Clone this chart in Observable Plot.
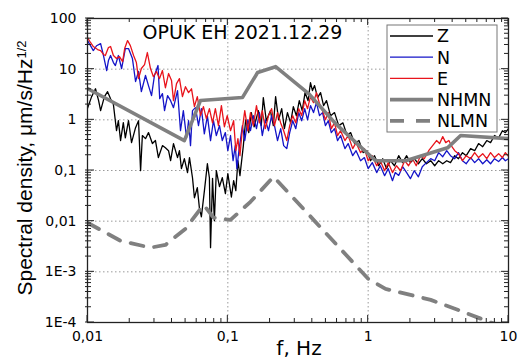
<!DOCTYPE html>
<html><head><meta charset="utf-8">
<script src="https://cdn.jsdelivr.net/npm/d3@7"></script>
<script src="https://cdn.jsdelivr.net/npm/@observablehq/plot@0.6"></script>
<style>html,body{margin:0;padding:0;background:#fff;} #chart{position:relative;width:519px;height:360px;overflow:hidden}</style>
</head><body><div id="chart"></div>
<script>
const titleText = "OPUK EH 2021.12.29";
const xLabelText = "f, Hz";
const yLabelMain = "Spectral density, μm/s/Hz";
const yLabelSup = "1/2";
const xTicks = [0.01, 0.1, 1, 10];
const xTickLabels = ["0,01", "0,1", "1", "10"];
const yTicks = [100, 10, 1, 0.1, 0.01, 0.001, 0.0001];
const yTickLabels = ["100", "10", "1", "0,1", "0,01", "1E-3", "1E-4"];
const seriesNames = ["Z", "N", "E", "NHMN", "NLMN"];
const seriesColors = ["#000000", "#1414c8", "#e8141c", "#808080", "#808080"];

// [frequency Hz, spectral density]
const zSeries = [[0.01,1.7],[0.0107,2.87],[0.0114,4.1],[0.012,2.39],[0.0124,1.52],[0.0132,2.87],[0.0139,3.6],[0.0146,2.6],[0.0153,2.0],[0.0161,0.61],[0.0166,0.96],[0.0172,0.39],[0.018,0.88],[0.0186,0.44],[0.0196,0.96],[0.0206,0.355],[0.022,0.7],[0.0231,0.96],[0.0239,0.099],[0.0246,0.49],[0.0259,0.425],[0.0272,0.56],[0.029,0.34],[0.0305,0.39],[0.032,0.18],[0.0342,0.31],[0.0359,0.28],[0.0378,0.246],[0.0391,0.156],[0.041,0.34],[0.0438,0.18],[0.0452,0.246],[0.0467,0.109],[0.049,0.171],[0.0516,0.091],[0.0533,0.18],[0.056,0.072],[0.0578,0.029],[0.0606,0.046],[0.0627,0.0184],[0.0648,0.0122],[0.0681,0.04],[0.0715,0.136],[0.0739,0.072],[0.0753,0.003],[0.0778,0.07],[0.0802,0.0102],[0.0828,0.099],[0.0872,0.048],[0.0913,0.072],[0.0961,0.035],[0.1,0.0865],[0.106,0.03],[0.11,0.063],[0.114,0.04],[0.118,0.156],[0.122,0.079],[0.129,0.31],[0.134,1.0],[0.141,0.56],[0.147,1.39],[0.154,0.73],[0.165,1.52],[0.173,0.77],[0.179,2.75],[0.188,0.96],[0.201,1.52],[0.211,0.77],[0.219,2.87],[0.23,1.0],[0.242,1.66],[0.253,0.67],[0.266,1.39],[0.28,0.87],[0.293,1.82],[0.308,1.2],[0.323,2.39],[0.339,1.52],[0.355,3.45],[0.373,2.39],[0.388,5.4],[0.401,3.78],[0.415,4.74],[0.436,2.75],[0.458,3.45],[0.481,1.91],[0.505,2.39],[0.54,1.2],[0.576,1.39],[0.617,0.77],[0.661,0.87],[0.708,0.49],[0.75,0.56],[0.8,0.34],[0.86,0.39],[0.92,0.225],[0.98,0.246],[1.04,0.156],[1.11,0.196],[1.19,0.124],[1.27,0.171],[1.35,0.109],[1.44,0.156],[1.54,0.124],[1.65,0.196],[1.76,0.143],[1.88,0.196],[2.0,0.143],[2.13,0.171],[2.28,0.136],[2.43,0.171],[2.6,0.136],[2.79,0.156],[2.98,0.124],[3.18,0.156],[3.4,0.136],[3.63,0.156],[3.86,0.143],[4.14,0.196],[4.4,0.171],[4.7,0.225],[5.0,0.196],[5.37,0.27],[5.74,0.246],[6.12,0.34],[6.55,0.295],[7.0,0.39],[7.45,0.355],[7.95,0.49],[8.5,0.44],[9.05,0.61],[9.5,0.56],[10,0.67]];

const nSeries = [[0.01,36.7],[0.0105,29.2],[0.011,23.3],[0.0116,29],[0.0124,32],[0.013,18.6],[0.0137,9.4],[0.0141,14.8],[0.0146,18.6],[0.0153,13.5],[0.0158,11.8],[0.0166,18.6],[0.0175,10.3],[0.0186,25.5],[0.0196,25.5],[0.0209,16.2],[0.022,5.7],[0.0231,9.0],[0.0242,3.6],[0.0259,7.5],[0.0272,4.74],[0.0286,3.0],[0.03,7.5],[0.0318,11.8],[0.0327,2.62],[0.0342,3.3],[0.0354,1.52],[0.0372,3.0],[0.0391,2.39],[0.041,1.74],[0.0438,3.78],[0.046,0.61],[0.0482,1.52],[0.0508,0.44],[0.0525,0.96],[0.0542,0.31],[0.056,1.52],[0.0588,1.74],[0.0618,0.77],[0.0648,1.66],[0.068,0.53],[0.0715,1.2],[0.0753,0.39],[0.079,0.96],[0.0828,0.49],[0.0872,0.77],[0.0913,0.39],[0.096,0.56],[0.1,0.246],[0.1045,0.49],[0.109,0.156],[0.113,0.31],[0.116,0.109],[0.12,0.246],[0.127,0.77],[0.132,0.39],[0.139,1.0],[0.145,0.61],[0.152,1.21],[0.16,0.67],[0.168,1.39],[0.176,0.49],[0.185,1.0],[0.195,0.61],[0.205,1.21],[0.215,0.77],[0.226,0.39],[0.238,0.67],[0.25,0.31],[0.263,0.27],[0.276,0.56],[0.29,0.96],[0.305,0.67],[0.32,1.39],[0.336,0.96],[0.353,1.66],[0.37,1.0],[0.388,1.91],[0.408,1.39],[0.428,2.19],[0.45,1.21],[0.473,1.39],[0.496,0.77],[0.52,0.96],[0.546,0.56],[0.576,0.67],[0.605,0.39],[0.636,0.49],[0.683,0.27],[0.72,0.34],[0.776,0.196],[0.82,0.246],[0.883,0.156],[0.94,0.18],[1.0,0.109],[1.07,0.143],[1.15,0.091],[1.22,0.124],[1.31,0.079],[1.39,0.109],[1.49,0.063],[1.56,0.091],[1.65,0.08],[1.76,0.119],[1.88,0.091],[2.0,0.069],[2.13,0.099],[2.28,0.075],[2.43,0.119],[2.6,0.143],[2.79,0.171],[2.98,0.156],[3.18,0.225],[3.4,0.187],[3.63,0.246],[3.86,0.196],[4.14,0.171],[4.4,0.225],[4.7,0.156],[5.0,0.136],[5.37,0.18],[5.74,0.143],[6.12,0.171],[6.55,0.136],[7.0,0.163],[7.45,0.136],[7.95,0.171],[8.5,0.15],[9.05,0.18],[9.5,0.156],[10,0.171]];

const eSeries = [[0.01,42],[0.0105,33.6],[0.011,28],[0.0118,24.4],[0.0124,23.3],[0.013,19.5],[0.0134,18.6],[0.0141,26.7],[0.0146,28],[0.0153,18.6],[0.0161,16.2],[0.0169,17.7],[0.0178,14.1],[0.0184,25.5],[0.0193,36.7],[0.0202,29.2],[0.0213,18.6],[0.0223,13.5],[0.0231,6.5],[0.0242,10.3],[0.0255,12.3],[0.0267,21.3],[0.0281,10.3],[0.0295,7.1],[0.031,9.0],[0.0326,6.5],[0.0342,9.4],[0.0359,4.3],[0.0378,8.2],[0.0397,5.95],[0.041,2.39],[0.0431,5.2],[0.0452,6.5],[0.0475,2.87],[0.0499,4.5],[0.0525,3.45],[0.0551,4.1],[0.0578,1.82],[0.0606,2.87],[0.0639,1.21],[0.067,1.82],[0.0703,1.06],[0.0739,1.66],[0.0778,0.87],[0.0815,1.66],[0.0857,0.77],[0.09,1.91],[0.0945,0.73],[0.099,1.21],[0.1045,0.61],[0.11,0.96],[0.114,0.246],[0.118,0.425],[0.122,0.196],[0.127,0.67],[0.132,1.52],[0.139,0.61],[0.145,1.39],[0.152,0.77],[0.16,1.91],[0.168,0.87],[0.176,1.52],[0.185,0.67],[0.195,1.21],[0.205,1.66],[0.215,0.77],[0.226,1.39],[0.238,0.87],[0.25,0.61],[0.263,0.39],[0.276,0.77],[0.29,1.21],[0.305,0.87],[0.32,1.66],[0.336,1.21],[0.353,2.39],[0.37,1.66],[0.388,2.87],[0.408,2.19],[0.428,3.45],[0.45,2.09],[0.473,1.52],[0.496,1.0],[0.52,1.39],[0.546,0.67],[0.576,0.87],[0.605,0.49],[0.636,0.61],[0.683,0.39],[0.72,0.49],[0.776,0.27],[0.82,0.355],[0.883,0.225],[0.94,0.27],[1.0,0.156],[1.07,0.196],[1.15,0.124],[1.22,0.156],[1.31,0.099],[1.39,0.143],[1.49,0.091],[1.59,0.124],[1.7,0.099],[1.82,0.156],[1.94,0.124],[2.07,0.171],[2.2,0.124],[2.36,0.196],[2.51,0.171],[2.7,0.246],[2.88,0.31],[3.07,0.39],[3.23,0.34],[3.4,0.466],[3.57,0.355],[3.76,0.39],[3.95,0.295],[4.14,0.246],[4.4,0.215],[4.7,0.156],[5.0,0.196],[5.37,0.171],[5.74,0.225],[6.12,0.18],[6.55,0.215],[7.0,0.171],[7.45,0.225],[7.95,0.18],[8.5,0.215],[9.05,0.18],[9.5,0.225],[10,0.19]];

const nhmnSeries = [[0.01,4.14],[0.049,0.39],[0.0638,2.4],[0.127,2.75],[0.163,8.6],[0.219,11.2],[0.376,3.3],[0.586,0.84],[1.13,0.156],[1.85,0.156],[3.68,0.28],[4.56,0.49],[10,0.425]];

const nlmnSeries = [[0.01,0.0093],[0.0172,0.0041],[0.0281,0.003],[0.0359,0.0034],[0.05,0.0071],[0.0671,0.0211],[0.0791,0.0117],[0.1045,0.0106],[0.145,0.0241],[0.212,0.0754],[1.0,0.00073],[1.33,0.00046],[2.79,0.00028],[4.56,0.00017],[7.45,0.0001],[10,0.00008]];

const toRows = arr => arr.map(([f, v]) => ({f, v}));
const xLabelMap = new Map(xTicks.map((t, i) => [t, xTickLabels[i]]));
const yLabelMap = new Map(yTicks.map((t, i) => [t, yTickLabels[i]]));
const allSeries = [zSeries, nSeries, eSeries, nhmnSeries, nlmnSeries];
const widths = [1.3, 1.3, 1.3, 3.6, 3.8];
const dashes = [null, null, null, null, "13,11"];

const font = "DejaVu Sans";
const chart = Plot.plot({
  width: 519, height: 360,
  marginLeft: 87, marginRight: 11, marginTop: 18, marginBottom: 38,
  style: {fontFamily: font, fontSize: "14px", background: "white", color: "black"},
  x: {type: "log", domain: [0.01, 10]},
  y: {type: "log", domain: [1e-4, 100]},
  marks: [
    Plot.gridX(xTicks, {stroke: "#9a9a9a", strokeOpacity: 1, strokeDasharray: "1.5,2.5"}),
    Plot.gridY(yTicks, {stroke: "#9a9a9a", strokeOpacity: 1, strokeDasharray: "1.5,2.5"}),
    ...allSeries.map((s, i) => Plot.line(toRows(s), {
      x: "f", y: "v", stroke: seriesColors[i], strokeWidth: widths[i],
      strokeDasharray: dashes[i], clip: true, curve: "linear"
    })),
    Plot.frame({stroke: "#222", strokeWidth: 1.3}),
    Plot.axisX(xTicks, {anchor: "bottom", tickSize: 0, tickPadding: 9, tickFormat: d => xLabelMap.get(d), label: null, fontSize: 14}),
    Plot.axisY(yTicks, {anchor: "left", tickSize: 0, tickPadding: 11, tickFormat: d => yLabelMap.get(d), label: null, fontSize: 14}),
    Plot.text([titleText], {text: d => d, frameAnchor: "top-left", textAnchor: "start", lineAnchor: "top", dx: 55, dy: 7, fontSize: 19, fill: "black"})
  ]
});
document.getElementById("chart").appendChild(chart);

const svg = d3.select(chart);
const sx = chart.scale("x"), sy = chart.scale("y");
const fLeft = Math.min(...sx.range), fRight = Math.max(...sx.range);
const fTop = Math.min(...sy.range), fBottom = Math.max(...sy.range);
// inward ticks on all four sides, from the scales' own log ticks
const minorX = d3.scaleLog().domain(sx.domain).ticks();
const minorY = d3.scaleLog().domain(sy.domain).ticks();
const tg = svg.append("g").attr("stroke", "#222").attr("stroke-width", 1);
const isMajor = (v, list) => list.some(t => Math.abs(Math.log10(t) - Math.log10(v)) < 1e-6);
minorX.forEach(v => {
  const px = sx.apply(v), len = isMajor(v, xTicks) ? 7 : 4;
  tg.append("line").attr("x1", px).attr("x2", px).attr("y1", fBottom).attr("y2", fBottom - len);
  tg.append("line").attr("x1", px).attr("x2", px).attr("y1", fTop).attr("y2", fTop + len);
});
minorY.forEach(v => {
  const py = sy.apply(v), len = isMajor(v, yTicks) ? 7 : 4;
  tg.append("line").attr("y1", py).attr("y2", py).attr("x1", fLeft - 2).attr("x2", fLeft + len);
  tg.append("line").attr("y1", py).attr("y2", py).attr("x1", fRight).attr("x2", fRight - len);
});
// legend
const lg = svg.append("g").attr("font-family", font).attr("font-size", 17.5).attr("text-anchor", "start");
lg.append("rect").attr("x", 387).attr("y", 25).attr("width", 110).attr("height", 107)
  .attr("fill", "white").attr("stroke", "#777").attr("stroke-width", 1);
seriesNames.forEach((name, i) => {
  const yy = 36 + i * 21.2;
  lg.append("line").attr("x1", 390).attr("x2", 433).attr("y1", yy).attr("y2", yy)
    .attr("stroke", seriesColors[i]).attr("stroke-width", widths[i])
    .attr("stroke-dasharray", dashes[i] ? "14,12" : null);
  lg.append("text").attr("x", 437).attr("y", yy).attr("dy", "0.37em").attr("fill", "black")
    .attr("text-anchor", "start").text(name);
});
// axis labels
const yl = svg.append("text").attr("transform", "translate(32,168) rotate(-90)")
  .attr("text-anchor", "middle").attr("font-family", "Liberation Sans").attr("font-size", 21).attr("fill", "black");
yl.append("tspan").text(yLabelMain);
yl.append("tspan").attr("dy", "-0.5em").attr("font-size", 13).text(yLabelSup);
svg.append("text").attr("x", 299).attr("y", 355).attr("text-anchor", "middle")
  .attr("font-family", font).attr("font-size", 20).attr("fill", "black").text(xLabelText);
</script>
</body></html>
